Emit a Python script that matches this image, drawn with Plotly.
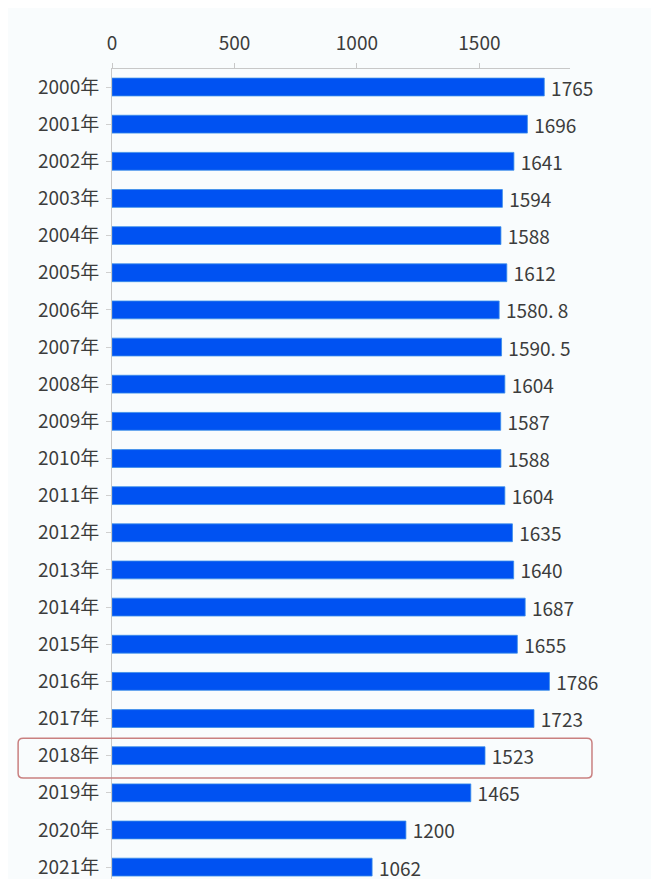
import plotly.graph_objects as go

years = ["2000年", "2001年", "2002年", "2003年", "2004年", "2005年", "2006年", "2007年",
         "2008年", "2009年", "2010年", "2011年", "2012年", "2013年", "2014年", "2015年",
         "2016年", "2017年", "2018年", "2019年", "2020年", "2021年"]
values = [1765, 1696, 1641, 1594, 1588, 1612, 1580.8, 1590.5,
          1604, 1587, 1588, 1604, 1635, 1640, 1687, 1655,
          1786, 1723, 1523, 1465, 1200, 1062]
value_labels = ["1765", "1696", "1641", "1594", "1588", "1612", "1580. 8", "1590. 5",
                "1604", "1587", "1588", "1604", "1635", "1640", "1687", "1655",
                "1786", "1723", "1523", "1465", "1200", "1062"]
x_ticks = [0, 500, 1000, 1500]
highlight = "2018年"

FONT = "Noto Sans CJK SC, sans-serif"
BG = "#f9fcfd"
TXT = "#3c3c3c"

fig = go.Figure(go.Bar(
    y=years, x=values, orientation="h",
    marker=dict(color="#0052f2", line=dict(color="#3a8ee8", width=0.8)),
    text=["\u2009" + t for t in value_labels], textposition="outside",
    cliponaxis=False, constraintext="none",
    textfont=dict(family=FONT, size=19, color=TXT),
    hoverinfo="x+y",
))

hi = years.index(highlight)
x0, x1 = -0.205, 1.048
y0, y1 = hi - 0.47, hi + 0.6
rx, ry = 0.011, 0.13
path = (f"M {x0+rx},{y0} L {x1-rx},{y0} Q {x1},{y0} {x1},{y0+ry} "
        f"L {x1},{y1-ry} Q {x1},{y1} {x1-rx},{y1} L {x0+rx},{y1} "
        f"Q {x0},{y1} {x0},{y1-ry} L {x0},{y0+ry} Q {x0},{y0} {x0+rx},{y0} Z")

fig.update_layout(
    width=651, height=871,
    margin=dict(l=104, r=89, t=61, b=0),
    paper_bgcolor=BG, plot_bgcolor=BG,
    bargap=0.52,
    showlegend=False,
    font=dict(family=FONT, size=19, color=TXT),
    xaxis=dict(
        side="top", range=[0, 1870], tickvals=x_ticks,
        showgrid=False, zeroline=False,
        showline=True, linecolor="#c8c8c8", linewidth=1,
        ticks="outside", ticklen=5, tickcolor="#c8c8c8",
        ticklabelstandoff=5,
        tickfont=dict(family=FONT, size=19, color=TXT),
    ),
    yaxis=dict(
        type="category", range=[21.32, -0.485],
        showgrid=False, zeroline=False,
        showline=True, linecolor="#c8c8c8", linewidth=1,
        ticks="outside", ticklen=5, tickcolor="#d0d0d0",
        ticklabelstandoff=3,
        tickfont=dict(family=FONT, size=19, color=TXT),
    ),
    shapes=[dict(type="path", xref="paper", yref="y", path=path,
                 line=dict(color="#c98080", width=1.5), layer="above")],
)

fig.write_html("out.html")
